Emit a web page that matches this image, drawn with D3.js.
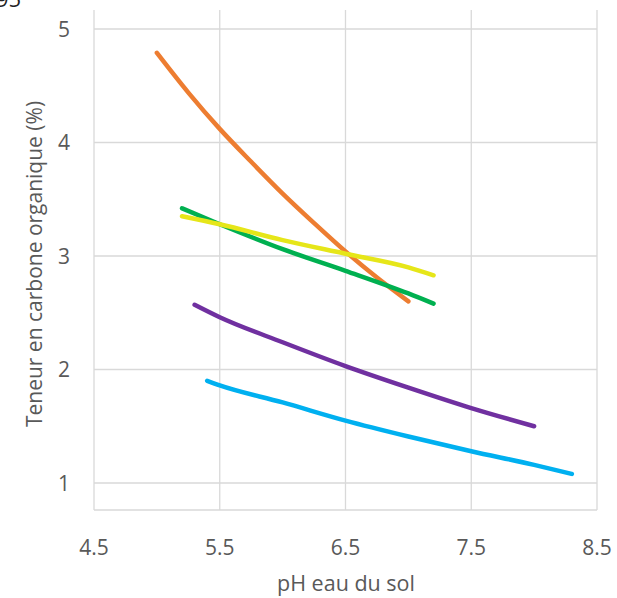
<!DOCTYPE html>
<html>
<head>
<meta charset="utf-8">
<script src="https://cdn.jsdelivr.net/npm/d3@7"></script>
<style>
  body { margin: 0; background: #fff; }
  svg { display: block; font-family: "Open Sans", sans-serif; }
</style>
</head>
<body>
<svg id="chart" width="617" height="598"></svg>
<script>
// pH values and organic carbon (%) per curve
var orangeX = [5.0, 5.25, 5.5, 5.75, 6.0, 6.25, 6.5, 6.75, 7.0];
var orangeY = [4.79, 4.44, 4.12, 3.83, 3.55, 3.29, 3.04, 2.81, 2.60];
var greenX = [5.2, 5.5, 6.0, 6.5, 7.0, 7.2];
var greenY = [3.42, 3.28, 3.06, 2.87, 2.67, 2.58];
var yellowX = [5.2, 5.5, 6.0, 6.5, 7.0, 7.2];
var yellowY = [3.35, 3.28, 3.14, 3.02, 2.90, 2.83];
var purpleX = [5.3, 5.5, 6.0, 6.5, 7.0, 7.5, 8.0];
var purpleY = [2.57, 2.46, 2.24, 2.03, 1.84, 1.66, 1.50];
var cyanX = [5.4, 5.5, 6.0, 6.5, 7.0, 7.5, 8.0, 8.3];
var cyanY = [1.90, 1.86, 1.71, 1.55, 1.41, 1.28, 1.16, 1.08];

var xTicks = [4.5, 5.5, 6.5, 7.5, 8.5];
var yTicks = [1, 2, 3, 4, 5];

var series = [
    { x: orangeX, y: orangeY, color: "#ED7D31" },
    { x: greenX, y: greenY, color: "#00B050" },
    { x: yellowX, y: yellowY, color: "#E6E619" },
    { x: purpleX, y: purpleY, color: "#7030A0" },
    { x: cyanX, y: cyanY, color: "#00B0F0" }
];

const svg = d3.select("#chart");

const x = d3.scaleLinear().domain([4.5, 8.5]).range([94, 597]);
const y = d3.scaleLinear().domain([1, 5]).range([483, 29]);
const plotTop = 10, plotBottom = 510;

// cropped text remnant at the very top-left
svg.append("text")
    .attr("x", -4)
    .attr("y", 7)
    .style("font-size", "22px")
    .style("fill", "#222")
    .text("95");

// vertical grid lines
svg.append("g")
    .selectAll("line")
    .data(xTicks)
    .enter().append("line")
    .attr("x1", d => x(d)).attr("x2", d => x(d))
    .attr("y1", plotTop).attr("y2", plotBottom)
    .attr("stroke", "#d9d9d9")
    .attr("stroke-width", 1.3);

// horizontal grid lines
svg.append("g")
    .selectAll("line")
    .data(yTicks)
    .enter().append("line")
    .attr("x1", x(4.5)).attr("x2", x(8.5))
    .attr("y1", d => y(d)).attr("y2", d => y(d))
    .attr("stroke", "#d9d9d9")
    .attr("stroke-width", 1.3);

// bottom border
svg.append("line")
    .attr("x1", x(4.5)).attr("x2", x(8.5))
    .attr("y1", plotBottom).attr("y2", plotBottom)
    .attr("stroke", "#d9d9d9")
    .attr("stroke-width", 1.3);

// tick labels
svg.append("g")
    .selectAll("text")
    .data(xTicks)
    .enter().append("text")
    .attr("x", d => x(d))
    .attr("y", 555)
    .attr("text-anchor", "middle")
    .style("font-size", "21px")
    .style("fill", "#595959")
    .text(d => d.toFixed(1));

svg.append("g")
    .selectAll("text")
    .data(yTicks)
    .enter().append("text")
    .attr("x", 70)
    .attr("y", d => y(d))
    .attr("dy", "0.36em")
    .attr("text-anchor", "end")
    .style("font-size", "21px")
    .style("fill", "#595959")
    .text(d => d);

// axis titles
svg.append("text")
    .attr("x", 346)
    .attr("y", 591)
    .attr("text-anchor", "middle")
    .style("font-size", "21.5px")
    .style("fill", "#595959")
    .text("pH eau du sol");

svg.append("text")
    .attr("transform", "translate(42, 264) rotate(-90)")
    .attr("text-anchor", "middle")
    .style("font-size", "21px")
    .style("fill", "#595959")
    .text("Teneur en carbone organique (%)");

// curves
const line = d3.line()
    .x(d => x(d[0]))
    .y(d => y(d[1]))
    .curve(d3.curveMonotoneX);

svg.append("g")
    .selectAll("path")
    .data(series)
    .enter().append("path")
    .attr("d", s => line(s.x.map((v, i) => [v, s.y[i]])))
    .attr("fill", "none")
    .attr("stroke", s => s.color)
    .attr("stroke-width", 4.5)
    .attr("stroke-linecap", "round");
</script>
</body>
</html>
